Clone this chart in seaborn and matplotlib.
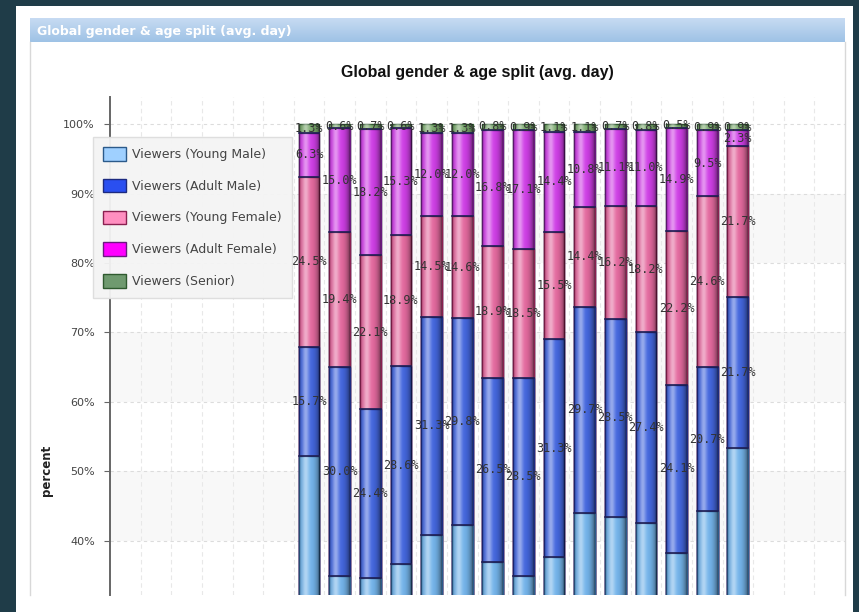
import numpy as np
import pandas as pd
import matplotlib
matplotlib.use("Agg")
import matplotlib.pyplot as plt
from matplotlib.patches import Rectangle, Patch
import seaborn as sns

# ---- data: share of viewers per hour of the day (hours without data are empty)
hours = [f"{h:02d}:00" for h in range(24)]
first_hour = 6
young_male   = [52.2, 35.0, 34.6, 36.6, 40.9, 42.3, 37.0, 35.0, 37.7, 44.0, 43.5, 42.6, 38.3, 44.3, 53.4]
adult_male   = [15.7, 30.0, 24.4, 28.6, 31.3, 29.8, 26.5, 28.5, 31.3, 29.7, 28.5, 27.4, 24.1, 20.7, 21.7]
young_female = [24.5, 19.4, 22.1, 18.9, 14.5, 14.6, 18.9, 18.5, 15.5, 14.4, 16.2, 18.2, 22.2, 24.6, 21.7]
adult_female = [6.3, 15.0, 18.2, 15.3, 12.0, 12.0, 16.8, 17.1, 14.4, 10.8, 11.1, 11.0, 14.9, 9.5, 2.3]
senior       = [1.3, 0.6, 0.7, 0.6, 1.3, 1.3, 0.8, 0.9, 1.1, 1.1, 0.7, 0.8, 0.5, 0.9, 0.9]
series_names = ["Viewers (Young Male)", "Viewers (Adult Male)", "Viewers (Young Female)",
                "Viewers (Adult Female)", "Viewers (Senior)"]
y_ticks = [40, 50, 60, 70, 80, 90, 100]

series = [young_male, adult_male, young_female, adult_female, senior]
bar_colors = ["#74b4ea", "#4467de", "#e46a9f", "#cf3fe6", "#79a86c"]
legend_colors = ["#9fd0ff", "#2a4ff0", "#ff8fc0", "#ff00ff", "#6f9a6f"]
edge_dark = ["#2b5a8a", "#1c2a80", "#8a2050", "#6a1a80", "#2f5a2f"]

def pad(vals):
    out = [np.nan] * len(hours)
    for k, v in enumerate(vals):
        out[first_hour + k] = v
    return out

df = pd.DataFrame({"hour": hours})
for name, vals in zip(series_names, series):
    df[name] = pad(vals)
cum = df[series_names].cumsum(axis=1)

W, H = 859, 612
fig = plt.figure(figsize=(W / 100, H / 100), dpi=100)
fig.patch.set_facecolor("#1f3c48")

def fx(px):
    return px / W

def fy(py):
    return 1 - py / H

# white panel
fig.add_artist(Rectangle((fx(16), 0), fx(853) - fx(16), fy(6), transform=fig.transFigure,
                         facecolor="white", edgecolor="none", zorder=0))
# panel border lines
for xp in (30, 845):
    fig.add_artist(plt.Line2D([fx(xp), fx(xp)], [fy(595), fy(42)], transform=fig.transFigure,
                              color="#d8d8d8", lw=1, zorder=1))

# header bar with gradient
hax = fig.add_axes([fx(30), fy(42), fx(845) - fx(30), fy(18) - fy(42)])
grad = np.linspace(0, 1, 50)[:, None]
top_c = np.array([0.78, 0.86, 0.95])
bot_c = np.array([0.62, 0.76, 0.90])
img = top_c[None, None, :] * (1 - grad[:, :, None]) + bot_c[None, None, :] * grad[:, :, None]
hax.imshow(img, aspect="auto", extent=[0, 1, 0, 1])
hax.set_axis_off()
hax.text(0.008, 0.45, "Global gender & age split (avg. day)", color="white", fontsize=9,
         fontweight="bold", va="center", ha="left", transform=hax.transAxes)

# chart title
fig.text(fx(477), fy(73), "Global gender & age split (avg. day)", ha="center", va="center",
         fontsize=11.5, fontweight="bold", color="#111111", family="Liberation Sans")

ax = fig.add_axes([fx(110), fy(595), fx(845) - fx(110), fy(97) - fy(595)])
ax.set_facecolor("white")
ymin, ymax = 32.2, 103.9

# alternating background bands and grid
for lo in (40, 60, 80):
    ax.axhspan(lo, lo + 10, color="#f8f8f8", zorder=0, lw=0)
for yv in y_ticks:
    ax.axhline(yv, color="#dcdcdc", lw=0.8, ls=(0, (3, 3)), zorder=0.5)
for i in range(1, len(hours)):
    ax.axvline(i - 0.5, color="#e8e8e8", lw=0.8, ls=(0, (4, 3)), zorder=0.5)

# stacked bars: draw cumulative totals from the top layer down
bar_w = 0.68
for j in reversed(range(len(series_names))):
    sns.barplot(x=df["hour"], y=cum[series_names[j]], order=hours, color=bar_colors[j],
                width=bar_w, edgecolor=edge_dark[j], linewidth=1.0, saturation=1,
                errorbar=None, ax=ax, zorder=2)

# cylindrical shading on each column
t = np.linspace(0, 1, 64)
hi = 0.45 * np.exp(-((t - 0.32) / 0.16) ** 2)
sh = 0.5 * (np.abs(t - 0.42) / 0.58) ** 3
light = np.zeros((1, len(t), 4)); light[..., :3] = 1; light[0, :, 3] = hi
dark = np.zeros((1, len(t), 4)); dark[0, :, 3] = sh
for i, h in enumerate(hours):
    total = cum[series_names[-1]].iloc[i]
    if np.isnan(total):
        continue
    ext = [i - bar_w / 2, i + bar_w / 2, ymin, total]
    ax.imshow(light, extent=ext, aspect="auto", zorder=3, interpolation="bilinear")
    ax.imshow(dark, extent=ext, aspect="auto", zorder=3, interpolation="bilinear")
    # segment separators
    for j in range(len(series_names) - 1):
        top = cum[series_names[j]].iloc[i]
        ax.plot([i - bar_w / 2, i + bar_w / 2], [top, top], color="#1e1e55", lw=1.2, zorder=3.5)

# value labels in the middle of each segment
for i, h in enumerate(hours):
    prev = 0.0
    for j, name in enumerate(series_names):
        v = df[name].iloc[i]
        if np.isnan(v):
            continue
        mid = prev + v / 2
        prev += v
        if mid < ymin:
            continue
        ax.text(i, mid, f"{v:.1f}%", ha="center", va="center", fontsize=8.5,
                family="DejaVu Sans Mono", color="#333333", zorder=5)

ax.set_xlim(-0.5, len(hours) - 0.5)
ax.set_ylim(ymin, ymax)
ax.set_xticks([])
ax.set_xlabel("")
ax.set_ylabel("")
ax.set_yticks(y_ticks)
ax.set_yticklabels([f"{v}%" for v in y_ticks], fontsize=8, color="#444444")
ax.tick_params(axis="y", length=4, color="#666666", pad=7)
for s in ("top", "right", "bottom"):
    ax.spines[s].set_visible(False)
ax.spines["left"].set_color("#666666")
ax.spines["left"].set_linewidth(1.4)

fig.text(fx(47), fy(470), "percent", rotation=90, ha="center", va="center",
         fontsize=8.5, fontweight="bold", color="#222222")

handles = [Patch(facecolor=c, edgecolor=e, linewidth=1) for c, e in zip(legend_colors, edge_dark)]
leg = fig.legend(handles, series_names, loc="upper left", bbox_to_anchor=(fx(93), fy(137)),
                 bbox_transform=fig.transFigure, fontsize=9, frameon=True, fancybox=False,
                 handlelength=1.8, handleheight=1.3, labelspacing=1.42, handletextpad=0.55,
                 borderpad=0.8, borderaxespad=0)
leg.get_frame().set_facecolor("#f4f4f4")
leg.get_frame().set_edgecolor("#dddddd")
leg.get_frame().set_alpha(0.95)
for txt in leg.get_texts():
    txt.set_color("#444444")
leg.set_zorder(10)

fig.savefig("out.png", dpi=100)
